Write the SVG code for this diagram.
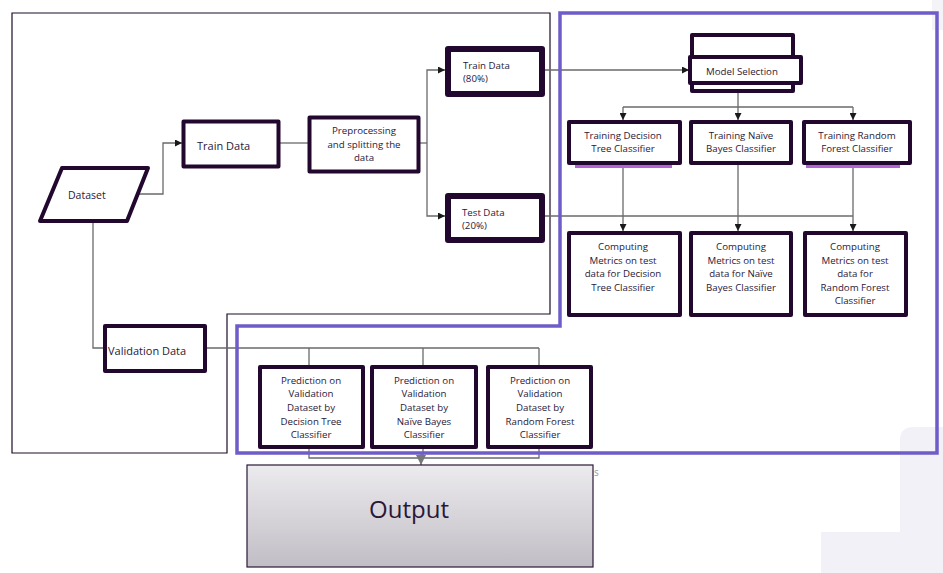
<svg xmlns="http://www.w3.org/2000/svg" width="943" height="573" viewBox="0 0 943 573">
<defs>
<style>
.n{fill:#fff;stroke:#22082e;stroke-width:4;stroke-linejoin:round}
.nt{fill:#fff;stroke:#22082e;stroke-width:6;stroke-linejoin:round}
.t{font-family:"Open Sans","Noto Sans",sans-serif;font-size:9.7px;fill:#2a1838}
.c{text-anchor:middle}
.l{fill:none;stroke:#6a6a6a;stroke-width:1.3}
</style>
<marker id="a" viewBox="0 0 10 10" refX="10" refY="5" markerWidth="7" markerHeight="7" orient="auto" markerUnits="userSpaceOnUse"><path d="M0,0L10,5L0,10Z" fill="#1a1a1a"/></marker>
<marker id="g" viewBox="0 0 10 10" refX="10" refY="5" markerWidth="10" markerHeight="10" orient="auto" markerUnits="userSpaceOnUse"><path d="M0,0L10,5L0,10Z" fill="#777"/></marker>
<linearGradient id="og" x1="0" y1="0" x2="0" y2="1"><stop offset="0" stop-color="#ecebee"/><stop offset="1" stop-color="#c1bdc5"/></linearGradient>
</defs>
<rect width="943" height="573" fill="#fff"/>
<path d="M900,440 Q900,427 914,427 H943 V573 H821 V532 H900 Z" fill="#f2f1f7"/>
<rect x="932" y="0" width="11" height="30" fill="#f4f3f8"/>
<path d="M12,13 H550 V314 H227 V453 H12 Z" fill="none" stroke="#1e0c2a" stroke-width="1.2"/>
<g id="connectors">
<polyline class="l" points="139,194 163,194 163,143 182,143" marker-end="url(#a)"/>
<line class="l" x1="280" y1="143" x2="308" y2="143"/>
<polyline class="l" points="420,143 427,143"/>
<polyline class="l" points="427,143 427,70 445,70" marker-end="url(#a)"/>
<polyline class="l" points="427,143 427,216 445,216" marker-end="url(#a)"/>
<line class="l" x1="545" y1="70" x2="689" y2="70" marker-end="url(#a)"/>
<line class="l" x1="738" y1="93" x2="738" y2="107"/>
<line class="l" x1="623" y1="107" x2="853" y2="107"/>
<line class="l" x1="623" y1="107" x2="623" y2="120" marker-end="url(#a)"/>
<line class="l" x1="738" y1="107" x2="738" y2="120" marker-end="url(#a)"/>
<line class="l" x1="853" y1="107" x2="853" y2="120" marker-end="url(#a)"/>
<line class="l" x1="545" y1="216" x2="853" y2="216"/>
<line class="l" x1="623" y1="165" x2="623" y2="231" marker-end="url(#a)"/>
<line class="l" x1="738" y1="165" x2="738" y2="231" marker-end="url(#a)"/>
<line class="l" x1="853" y1="165" x2="853" y2="231" marker-end="url(#a)"/>
<polyline class="l" points="93,221 93,348 103,348"/>
<line class="l" x1="207" y1="348" x2="539" y2="348"/>
<line class="l" x1="309" y1="348" x2="309" y2="365"/>
<line class="l" x1="423" y1="348" x2="423" y2="365"/>
<line class="l" x1="539" y1="348" x2="539" y2="365"/>
<polyline class="l" points="309,449 309,458 539,458 539,449"/>
<line class="l" x1="423" y1="449" x2="423" y2="458"/>
<line class="l" x1="421" y1="452" x2="421" y2="465" marker-end="url(#g)"/>
</g>
<g id="dataset"><polygon class="n" points="62,168 148,168 127,221 40,221"/><text class="t" x="68" y="199" style="font-size:10.5px">Dataset</text></g>
<g id="train"><rect class="n" x="183.5" y="121.5" width="95" height="45"/><text class="t" x="197" y="150" style="font-size:11px">Train Data</text></g>
<g id="prep"><rect class="n" x="309.5" y="117.5" width="109" height="54"/><text class="t c" x="364" y="134">Preprocessing</text><text class="t c" x="364" y="147.5">and splitting the</text><text class="t c" x="364" y="161">data</text></g>
<g id="train80"><rect class="nt" x="448" y="49" width="94" height="45"/><text class="t" x="463" y="69">Train Data</text><text class="t" x="463" y="82">(80%)</text></g>
<g id="test20"><rect class="nt" x="448" y="196" width="94" height="44"/><text class="t" x="462" y="216">Test Data</text><text class="t" x="462" y="229">(20%)</text></g>
<polygon points="560,13 937,13 937,453 237,453 237,326 560,326" fill="none" stroke="#6e5cc9" stroke-width="3.5"/>
<g id="model"><rect class="n" x="692" y="35" width="101" height="56"/><rect class="n" x="690" y="57" width="111" height="26"/><text class="t c" x="742" y="75">Model Selection</text></g>
<g id="tdt"><rect x="575" y="163" width="97" height="5" fill="#b264d6"/><rect class="n" x="569" y="122" width="111" height="41"/><text class="t c" x="623" y="139">Training Decision</text><text class="t c" x="623" y="152">Tree Classifier</text></g>
<g id="tnb"><rect class="n" x="691" y="122" width="100" height="41"/><text class="t c" x="741" y="139">Training Naïve</text><text class="t c" x="741" y="152">Bayes Classifier</text></g>
<g id="trf"><rect x="806" y="163" width="94" height="5" fill="#b264d6"/><rect class="n" x="804" y="122" width="106" height="41"/><text class="t c" x="857" y="139">Training Random</text><text class="t c" x="857" y="152">Forest Classifier</text></g>
<g id="cdt"><rect class="n" x="569" y="233" width="111" height="82"/><text class="t c" x="623" y="250">Computing</text><text class="t c" x="623" y="263.5">Metrics on test</text><text class="t c" x="623" y="277">data for Decision</text><text class="t c" x="623" y="291">Tree Classifier</text></g>
<g id="cnb"><rect class="n" x="691" y="233" width="100" height="82"/><text class="t c" x="741" y="250">Computing</text><text class="t c" x="741" y="263.5">Metrics on test</text><text class="t c" x="741" y="277">data for Naïve</text><text class="t c" x="741" y="291">Bayes Classifier</text></g>
<g id="crf"><rect class="n" x="805" y="233" width="101" height="82"/><text class="t c" x="855" y="250">Computing</text><text class="t c" x="855" y="263.5">Metrics on test</text><text class="t c" x="855" y="277">data for</text><text class="t c" x="855" y="291">Random Forest</text><text class="t c" x="855" y="304">Classifier</text></g>
<g id="valid"><rect class="n" x="105" y="326" width="100" height="45"/><text class="t" x="108" y="355" style="font-size:11px">Validation Data</text></g>
<g id="pdt"><rect class="n" x="260" y="367" width="103" height="80"/><text class="t c" x="311" y="384">Prediction on</text><text class="t c" x="311" y="397">Validation</text><text class="t c" x="311" y="411">Dataset by</text><text class="t c" x="311" y="425">Decision Tree</text><text class="t c" x="311" y="438">Classifier</text></g>
<g id="pnb"><rect class="n" x="372" y="367" width="104" height="80"/><text class="t c" x="424" y="384">Prediction on</text><text class="t c" x="424" y="397">Validation</text><text class="t c" x="424" y="411">Dataset by</text><text class="t c" x="424" y="425">Naïve Bayes</text><text class="t c" x="424" y="438">Classifier</text></g>
<g id="prf"><rect class="n" x="488" y="367" width="103" height="80"/><text class="t c" x="540" y="384">Prediction on</text><text class="t c" x="540" y="397">Validation</text><text class="t c" x="540" y="411">Dataset by</text><text class="t c" x="540" y="425">Random Forest</text><text class="t c" x="540" y="438">Classifier</text></g>
<g id="output"><rect x="247" y="465" width="346" height="102" fill="url(#og)" stroke="#2a1838" stroke-width="1.2"/><text class="t c" x="409" y="518" style="font-size:24px">Output</text></g>
<text x="594" y="476" style="font-family:'Open Sans',sans-serif;font-size:10px;fill:#999">s</text>
</svg>
